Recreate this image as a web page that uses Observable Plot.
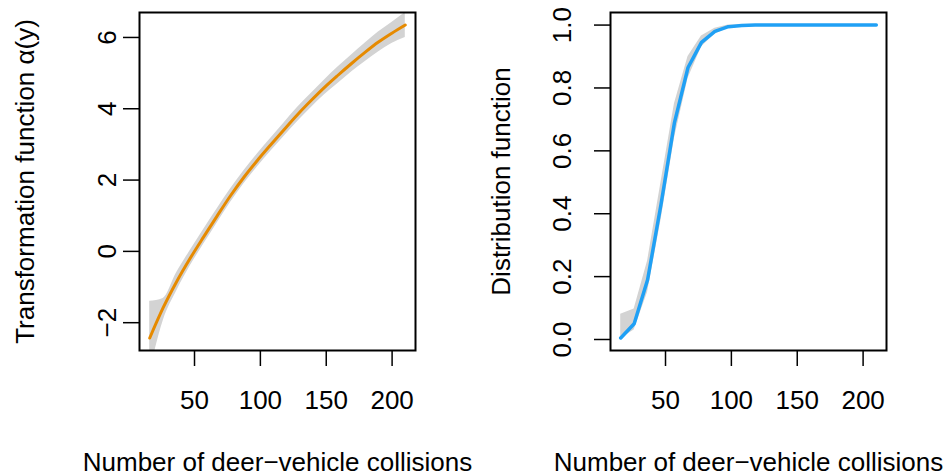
<!DOCTYPE html>
<html><head><meta charset="utf-8">
<script src="https://cdn.jsdelivr.net/npm/d3@7"></script>
<script src="https://cdn.jsdelivr.net/npm/@observablehq/plot@0.6"></script>
<style>
body{margin:0;background:#fff;}
#wrap{display:flex;width:946px;height:475px;background:#fff;}
</style></head><body><div id="wrap"></div>
<script>
// x grid (number of deer-vehicle collisions)
const collisions = [16, 26.2, 36.4, 46.6, 56.8, 67.1, 77.3, 87.5, 97.7, 107.9, 118.1, 128.3, 138.5, 148.7, 158.9, 169.2, 179.4, 189.6, 199.8, 210];
// left panel: transformation function alpha(y) with band
const alphaFit   = [-2.43, -1.58, -0.85, -0.20, 0.40, 0.99, 1.56, 2.08, 2.55, 2.99, 3.42, 3.84, 4.23, 4.60, 4.94, 5.27, 5.58, 5.87, 6.12, 6.35];
const alphaLower = [-3.40, -1.95, -1.12, -0.42, 0.19, 0.79, 1.37, 1.90, 2.37, 2.81, 3.23, 3.64, 4.03, 4.39, 4.71, 5.03, 5.32, 5.59, 5.83, 6.00];
const alphaUpper = [-1.40, -1.32, -0.60, 0.02, 0.61, 1.19, 1.75, 2.26, 2.73, 3.17, 3.61, 4.04, 4.43, 4.81, 5.17, 5.51, 5.84, 6.15, 6.42, 6.70];
// right panel: distribution function with band
const cdfFit   = [0.005, 0.05, 0.19, 0.43, 0.69, 0.865, 0.945, 0.98, 0.995, 0.999, 1, 1, 1, 1, 1, 1, 1, 1, 1, 1];
const cdfLower = [0.003, 0.03, 0.15, 0.38, 0.64, 0.83, 0.93, 0.972, 0.99, 0.997, 1, 1, 1, 1, 1, 1, 1, 1, 1, 1];
const cdfUpper = [0.08, 0.097, 0.25, 0.50, 0.75, 0.90, 0.965, 0.99, 1, 1, 1, 1, 1, 1, 1, 1, 1, 1, 1, 1];
// ticks and labels
const xTicks = [50, 100, 150, 200];
const alphaTicks = [-2, 0, 2, 4, 6];
const cdfTicks = [0, 0.2, 0.4, 0.6, 0.8, 1];
const xTitle = "Number of deer\u2212vehicle collisions";
const alphaTitle = "Transformation function \u03b1(y)";
const cdfTitle = "Distribution function";

const FONT = "'Liberation Sans', Arial, Helvetica, sans-serif";

function panel(o) {
  const rows = collisions.map((x, i) => ({x, fit: o.fit[i], lo: o.lower[i], hi: o.upper[i]}));
  return Plot.plot({
    width: 473, height: 475,
    marginLeft: o.marginLeft, marginRight: 473 - o.marginLeft - 276,
    marginTop: 12, marginBottom: 125,
    style: {fontFamily: FONT, fontSize: "26px", background: "#fff", color: "#000", overflow: "visible"},
    x: {domain: [8.24, 217.76]},
    y: {domain: o.yDomain},
    marks: [
      Plot.areaY(rows, {x: "x", y1: "lo", y2: "hi", fill: "#d3d3d3", curve: o.curve, clip: true}),
      Plot.lineY(rows, {x: "x", y: "fit", stroke: o.color, strokeWidth: o.lw, curve: o.curve, clip: true}),
      Plot.frame({stroke: "#000", strokeWidth: 2}),
      Plot.axisX(xTicks, {tickSize: 16, tickPadding: 24, strokeWidth: 1.5, label: null, tickFormat: d3.format("d")}),
      Plot.axisY(o.yTicks, {tickSize: 16, tickPadding: o.tickPad, tickRotate: -90, tickFormat: o.yFormat, label: null, strokeWidth: 1.5}),
      Plot.text([o.yTitle], {text: d => d, frameAnchor: "left", rotate: -90, dx: o.titleDx, lineAnchor: "bottom", textAnchor: "middle"}),
      Plot.text([xTitle], {text: d => d, frameAnchor: "bottom", dy: 120, lineAnchor: "bottom", textAnchor: "middle"})
    ]
  });
}

const wrap = document.getElementById("wrap");
wrap.append(panel({
  fit: alphaFit, lower: alphaLower, upper: alphaUpper,
  yDomain: [-2.78, 6.70], yTicks: alphaTicks, yFormat: d3.format("d"),
  yTitle: alphaTitle, color: "#e68a00", lw: 3, curve: "monotone-x",
  marginLeft: 139, tickPad: 8, titleDx: -105.7
}));
wrap.append(panel({
  fit: cdfFit, lower: cdfLower, upper: cdfUpper,
  yDomain: [-0.035, 1.04], yTicks: cdfTicks, yFormat: d3.format(".1f"),
  yTitle: cdfTitle, color: "#1fa0f5", lw: 3.5, curve: "linear",
  marginLeft: 137, tickPad: 23.5, titleDx: -100.5
}));
</script></body></html>
